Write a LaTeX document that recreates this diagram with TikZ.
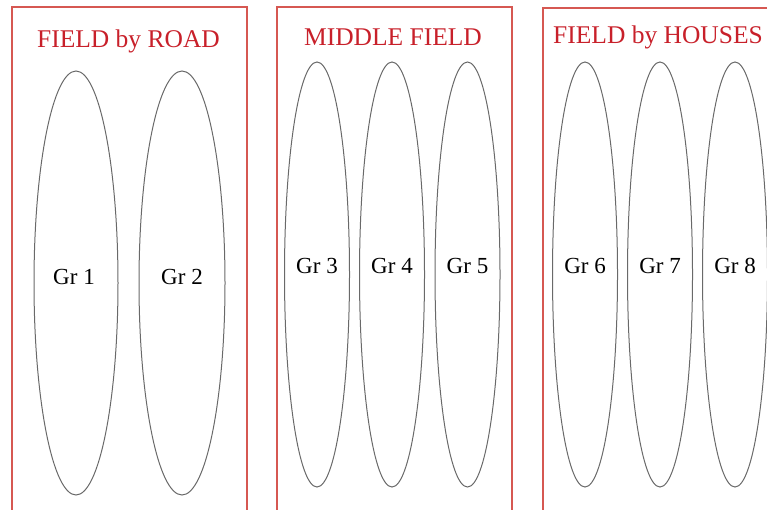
\documentclass[tikz,border=0pt]{standalone}
\usepackage{fontspec}
\setmainfont{Liberation Serif}
\definecolor{boxred}{RGB}{214,88,82}
\definecolor{titlered}{RGB}{200,32,42}
\definecolor{ellgray}{RGB}{105,105,105}
\tikzset{
  fieldbox/.style={draw=boxred, line width=1.5pt},
  fieldtitle/.style={text=titlered, font=\fontsize{25.5}{28}\selectfont, anchor=base, inner sep=0pt},
  grlabel/.style={font=\fontsize{23}{26}\selectfont, anchor=base, inner sep=0pt},
  groval/.style={draw=ellgray, line width=1pt}
}
\begin{document}
\begin{tikzpicture}[x=1pt,y=-1pt]
\useasboundingbox (0,0) rectangle (767,509);
\clip (0,0) rectangle (767,509);
% boxes
\draw[fieldbox] (12,7) rectangle (247,540);
\draw[fieldbox] (277,7) rectangle (512,540);
\draw[fieldbox] (543,8) rectangle (778,540);
% titles
\node[fieldtitle] (t1) at (128.5,47) {FIELD by ROAD};
\node[fieldtitle] (t2) at (393,45) {MIDDLE FIELD};
\node[fieldtitle] (t3) at (658,43) {FIELD by HOUSES};
% ovals
\draw[groval] (76,283) ellipse [x radius=42, y radius=212];
\draw[groval] (182,283) ellipse [x radius=43, y radius=212];
\draw[groval] (317,274.5) ellipse [x radius=32.5, y radius=212.5];
\draw[groval] (392,274.5) ellipse [x radius=32.5, y radius=212.5];
\draw[groval] (467.5,274.5) ellipse [x radius=32.5, y radius=212.5];
\draw[groval] (585,274.5) ellipse [x radius=32.5, y radius=212.5];
\draw[groval] (660,274.5) ellipse [x radius=32.5, y radius=212.5];
\draw[groval] (735,274.5) ellipse [x radius=32.5, y radius=212.5];
% labels
\node[grlabel] (g1) at (74,284) {Gr 1};
\node[grlabel] (g2) at (182,284) {Gr 2};
\node[grlabel] (g3) at (317,273) {Gr 3};
\node[grlabel] (g4) at (392,273) {Gr 4};
\node[grlabel] (g5) at (467.5,273) {Gr 5};
\node[grlabel] (g6) at (585,273) {Gr 6};
\node[grlabel] (g7) at (660,273) {Gr 7};
\node[grlabel] (g8) at (735,273) {Gr 8};
\end{tikzpicture}
\end{document}
